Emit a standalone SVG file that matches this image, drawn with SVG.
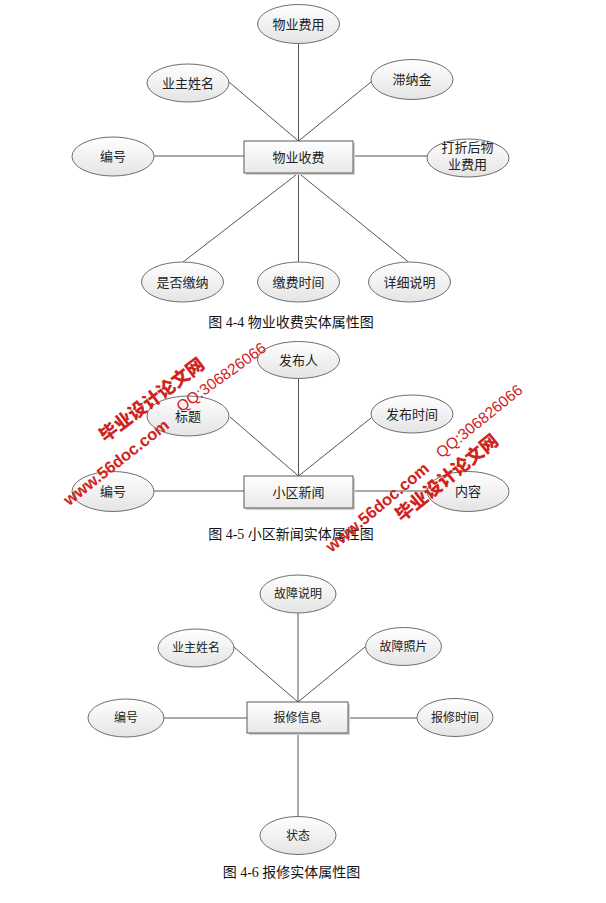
<svg xmlns="http://www.w3.org/2000/svg" width="606" height="903" viewBox="0 0 606 903">
<style>
.bg{fill:#ffffff}
.attr{fill:url(#eg);stroke:#6e6e6e;stroke-width:1}
.ent{fill:url(#rg);stroke:#5a5a5a;stroke-width:1}
.sh{fill:#d0d0d0}
.ln{stroke:#555555;stroke-width:1;fill:none}
.t{font-family:"Liberation Sans","Noto Sans CJK SC",sans-serif;font-size:13px;fill:#222222;text-anchor:middle;dominant-baseline:central}
.t2{font-size:12px}
.cap{font-family:"Liberation Serif","Noto Sans CJK SC",serif;font-size:14px;fill:#111111;text-anchor:middle;dominant-baseline:central}
.wm{font-family:"Liberation Sans","Noto Sans CJK SC",sans-serif;fill:#d0231c;text-anchor:middle;dominant-baseline:central}
.wb{font-weight:900;font-size:18px}
.wu{font-weight:bold;font-size:16.5px}
.wq{font-size:15.5px;font-weight:500}
</style>
<defs>
<linearGradient id="eg" x1="0" y1="0" x2="0" y2="1">
<stop offset="0" stop-color="#ffffff"/>
<stop offset="1" stop-color="#e4e4e4"/>
</linearGradient>
<linearGradient id="rg" x1="0" y1="0" x2="0" y2="1">
<stop offset="0" stop-color="#ffffff"/>
<stop offset="1" stop-color="#e8e8e8"/>
</linearGradient>
</defs>
<rect class="bg" x="0" y="0" width="606" height="903"/>

<g id="connectors">
<line class="ln" x1="298.5" y1="43" x2="298.5" y2="141"/>
<line class="ln" x1="229" y1="82" x2="298.5" y2="141"/>
<line class="ln" x1="371" y1="82" x2="298.5" y2="141"/>
<line class="ln" x1="154" y1="156" x2="244" y2="156"/>
<line class="ln" x1="353" y1="156" x2="427" y2="156"/>
<line class="ln" x1="298.5" y1="173" x2="183" y2="262"/>
<line class="ln" x1="298.5" y1="173" x2="298.5" y2="262"/>
<line class="ln" x1="298.5" y1="173" x2="408.5" y2="262"/>

<line class="ln" x1="298.5" y1="378" x2="298.5" y2="476"/>
<line class="ln" x1="230" y1="417" x2="298.5" y2="476"/>
<line class="ln" x1="371" y1="418" x2="298.5" y2="476"/>
<line class="ln" x1="154" y1="491" x2="244" y2="491"/>
<line class="ln" x1="353" y1="491" x2="427" y2="491"/>

<line class="ln" x1="298" y1="613" x2="298" y2="702"/>
<line class="ln" x1="234" y1="647" x2="298" y2="702"/>
<line class="ln" x1="365" y1="647" x2="298" y2="702"/>
<line class="ln" x1="164" y1="718" x2="247" y2="718"/>
<line class="ln" x1="348" y1="718" x2="417" y2="718"/>
<line class="ln" x1="298" y1="733" x2="298" y2="817"/>
</g>

<!-- Figure 4-4 -->
<g id="e44"><rect class="sh" x="246" y="143" width="109" height="32"/><rect class="ent" x="244" y="141" width="109" height="32"/><text class="t" x="298.5" y="157">物业收费</text></g>
<g id="a44_fee"><ellipse class="attr" cx="298.5" cy="24" rx="41" ry="19.5"/><text class="t" x="298.5" y="24">物业费用</text></g>
<g id="a44_owner"><ellipse class="attr" cx="188" cy="83" rx="41" ry="19"/><text class="t" x="188" y="83">业主姓名</text></g>
<g id="a44_late"><ellipse class="attr" cx="412" cy="79.5" rx="41" ry="20"/><text class="t" x="412" y="79.5">滞纳金</text></g>
<g id="a44_id"><ellipse class="attr" cx="113" cy="156.5" rx="41" ry="19.5"/><text class="t" x="113" y="156.5">编号</text></g>
<g id="a44_disc"><ellipse class="attr" cx="468" cy="158" rx="41" ry="19"/><text class="t" x="467.5" y="147.5">打折后物</text><text class="t" x="467.5" y="164.5">业费用</text></g>
<g id="a44_paid"><ellipse class="attr" cx="182.5" cy="282" rx="41" ry="20"/><text class="t" x="182.5" y="282">是否缴纳</text></g>
<g id="a44_time"><ellipse class="attr" cx="298.5" cy="282" rx="41" ry="20"/><text class="t" x="298.5" y="282">缴费时间</text></g>
<g id="a44_desc"><ellipse class="attr" cx="409.5" cy="282" rx="41" ry="20"/><text class="t" x="409.5" y="282">详细说明</text></g>
<text class="cap" x="291" y="322">图 4-4  物业收费实体属性图</text>

<!-- Figure 4-5 -->
<g id="e45"><rect class="sh" x="246" y="478" width="109" height="32"/><rect class="ent" x="244" y="476" width="109" height="32"/><text class="t" x="298.5" y="492">小区新闻</text></g>
<g id="a45_pub"><ellipse class="attr" cx="298.5" cy="360" rx="41" ry="18.5"/><text class="t" x="298.5" y="360">发布人</text></g>
<g id="a45_title"><ellipse class="attr" cx="188" cy="416" rx="41" ry="20"/><text class="t" x="188" y="416">标题</text></g>
<g id="a45_ptime"><ellipse class="attr" cx="412" cy="414" rx="41" ry="19"/><text class="t" x="412" y="414">发布时间</text></g>
<g id="a45_id"><ellipse class="attr" cx="113" cy="491.5" rx="41" ry="20"/><text class="t" x="113" y="491.5">编号</text></g>
<g id="a45_content"><ellipse class="attr" cx="468" cy="491.5" rx="41" ry="20"/><text class="t" x="468" y="491.5">内容</text></g>
<text class="cap" x="291" y="534">图 4-5 小区新闻实体属性图</text>

<!-- Figure 4-6 -->
<g id="e46"><rect class="sh" x="249" y="704" width="101" height="31"/><rect class="ent" x="247" y="702" width="101" height="31"/><text class="t t2" x="297.5" y="717.5">报修信息</text></g>
<g id="a46_desc"><ellipse class="attr" cx="298" cy="594" rx="38" ry="19"/><text class="t t2" x="298" y="594">故障说明</text></g>
<g id="a46_owner"><ellipse class="attr" cx="196" cy="648" rx="38" ry="19"/><text class="t t2" x="196" y="648">业主姓名</text></g>
<g id="a46_photo"><ellipse class="attr" cx="403.5" cy="646.5" rx="38" ry="19"/><text class="t t2" x="403.5" y="646.5">故障照片</text></g>
<g id="a46_id"><ellipse class="attr" cx="126" cy="718" rx="38" ry="19"/><text class="t t2" x="126" y="718">编号</text></g>
<g id="a46_time"><ellipse class="attr" cx="455" cy="717.5" rx="38" ry="19"/><text class="t t2" x="455" y="717.5">报修时间</text></g>
<g id="a46_state"><ellipse class="attr" cx="298" cy="835.5" rx="38" ry="19"/><text class="t t2" x="298" y="835.5">状态</text></g>
<text class="cap" x="291.5" y="872.5">图 4-6  报修实体属性图</text>

<!-- watermarks -->
<g id="watermark">
<text class="wm wb" transform="translate(152,400) rotate(-37)">毕业设计论文网</text>
<text class="wm wu" transform="translate(116,462) rotate(-38)">www.56doc.com</text>
<text class="wm wq" transform="translate(221,377) rotate(-36)">QQ:306826066</text>
<text class="wm wq" transform="translate(479,421) rotate(-39)">QQ:306826066</text>
<text class="wm wb" transform="translate(447,478) rotate(-39)">毕业设计论文网</text>
<text class="wm wu" transform="translate(377,507) rotate(-40)">www.56doc.com</text>
</g>
</svg>
